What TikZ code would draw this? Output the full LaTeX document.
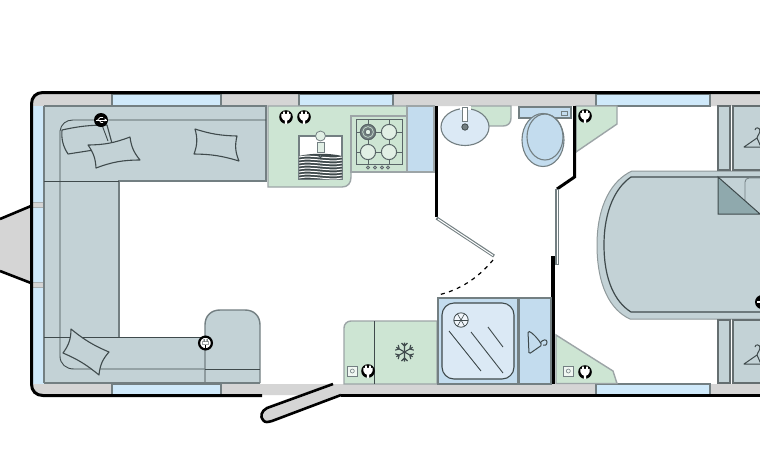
\documentclass[tikz,border=0pt]{standalone}
\definecolor{sofa}{HTML}{C3D2D6}
\definecolor{edge}{HTML}{737F82}
\definecolor{leaf}{HTML}{CDE5D3}
\definecolor{glass}{HTML}{CFE9FA}
\definecolor{unit}{HTML}{C3DCEE}
\definecolor{tray}{HTML}{DBE9F5}
\definecolor{band}{HTML}{D5D5D5}
\definecolor{fold}{HTML}{8FA9AD}
\definecolor{ink}{HTML}{3F4A4C}
\definecolor{hobline}{HTML}{5A6668}
\tikzset{
  panel/.style={draw=edge,line width=1.4pt},
  thin part/.style={draw=ink,line width=0.9pt},
  wallink/.style={draw=black,line width=3pt},
  cushion/.style={draw=ink,line width=1.1pt,fill=sofa,line join=round},
  plugsock/.pic={
    \fill[black] (0,0) circle (6.8);
    \fill[white] (-4.6,-3.2) -- (4.6,-3.2) -- (4.6,0) .. controls (4.6,2.8) and (1.6,3.2) .. (1.1,3.6) -- (1.1,6.8) -- (-1.1,6.8) -- (-1.1,3.6) .. controls (-1.6,3.2) and (-4.6,2.8) .. (-4.6,0) -- cycle;
    \fill[white] (-2.8,-5.4) rectangle (-1.2,-3) (1.2,-5.4) rectangle (2.8,-3);
  },
  hangerpic/.pic={
    \draw[line width=1pt,draw=ink,line join=round] (0,0) -- (13,-9) -- (17,0) -- cycle;
    \draw[line width=1pt,draw=ink] (13,-9) .. controls (14,-13) and (16,-13) .. (16,-16) .. controls (16,-20) and (11,-20) .. (11,-17);
  },
}
\begin{document}
\begin{tikzpicture}[x=1pt,y=-1pt]
\useasboundingbox (0,0) rectangle (760,467);
\path[clip] (0,0) rectangle (760,467);
\fill[white] (0,0) rectangle (760,467);

% hitch
\fill[band] (0,219) -- (31,206) -- (31,283) -- (0,270) -- cycle;
\draw[line width=2.6pt] (0,219) -- (31,206);
\draw[line width=2.6pt] (0,271) -- (31,283);

% wall bands
\fill[band] (43,93) -- (760,93) -- (760,106) -- (33,106) -- (33,103) .. controls (33,97) and (37,93) .. (43,93) -- cycle;
\fill[band] (33,384) -- (340,384) -- (340,395) -- (43,395) .. controls (37,395) and (33,391) .. (33,385) -- cycle;
\fill[band] (340,384) rectangle (760,395);
\fill[glass] (33,106) rectangle (44,384);
\fill[band] (33,202) rectangle (44,207);
\fill[band] (33,282) rectangle (44,287);
\draw[edge!60,line width=0.5pt] (33,202) -- (44,202) (33,207) -- (44,207) (33,282) -- (44,282) (33,287) -- (44,287);

% windows
\foreach \a/\b in {112/221,299/393,596/710}{
  \draw[panel,fill=glass] (\a,94) rectangle (\b,106);
}
\foreach \a/\b in {112/221,596/710}{
  \draw[panel,fill=glass] (\a,384) rectangle (\b,395);
}

% sofa
\fill[sofa] (44,106) -- (266,106) -- (266,181) -- (119,181) -- (119,337) -- (205,337) -- (205,383) -- (44,383) -- cycle;
\draw[panel] (44,106) -- (266,106) -- (266,181) -- (119,181) -- (119,337);
\draw[panel] (44,106) -- (44,383);
\draw[thin part] (44,181) -- (119,181);
\draw[thin part] (44,337) -- (205,337);
\draw[thin part] (266,120) -- (73,120) .. controls (66,120) and (61,124) .. (60,131) -- (60,356) .. controls (60,364) and (66,369) .. (74,369) -- (205,369);
\draw[panel,fill=sofa] (205,383) -- (205,325) .. controls (205,316) and (211,310) .. (220,310) -- (245,310) .. controls (254,310) and (260,316) .. (260,325) -- (260,383);
\draw[thin part] (205,369) -- (260,369);
\draw[panel] (44,383) -- (260,383);

% cushions
\draw[cushion] (62,130) to[bend left=6] (107,125) -- (113,147) -- (68,154) to[bend left=18] cycle;
\draw[thin part] (102,125) -- (108,141);
\draw[cushion] (88,145) to[bend right=10] (130,137) to[bend right=16] (140,160) to[bend right=10] (96,168) to[bend right=16] cycle;
\draw[cushion] (195,129) to[bend right=8] (237,136) to[bend right=18] (239,161) to[bend right=8] (194,154) to[bend right=18] cycle;
\draw[cushion] (71,329) to[bend right=8] (109,352) to[bend right=18] (99,375) to[bend right=8] (63,353) to[bend right=18] cycle;

% usb
\node[circle,fill=black,minimum size=14pt,inner sep=0pt] (usb) at (101,120) {};
\draw[white,line width=1pt] (95.5,120) -- (107,120);
\fill[white] (107,120) -- (104.5,118.4) -- (104.5,121.6) -- cycle;
\draw[white,line width=0.7pt] (97.5,120) -- (100,117.5) -- (103,117.5) (99,120) -- (101,122.5) -- (103,122.5);
% sofa socket
\draw[black,line width=2.2pt,fill=white] (205.5,343) circle (6.4);
\fill[ink!50] (202,341) rectangle (209,345);
\fill[white] (202.8,341.8) rectangle (208.2,344.4);
\fill[ink] (203.5,339) rectangle (204.5,341.5) (206.5,339) rectangle (207.5,341.5);
\draw[black,line width=1.2pt] (205.5,345) -- (205.5,350);

% kitchen
\draw[panel,draw=edge!70,fill=leaf] (268,106) -- (268,187) -- (342,187) .. controls (348,187) and (351,183) .. (351,177) -- (351,172) -- (407,172) -- (407,106) -- cycle;
\draw[panel,draw=edge!70,fill=unit] (407,106) rectangle (434,172);
\draw[panel,draw=edge!70,fill=leaf] (351,116) rectangle (407,172);
\pic at (286,117) {plugsock};
\pic at (304,117) {plugsock};
% sink
\draw[line width=1.4pt,draw=edge,fill=white] (299,136) rectangle (342,179);
\fill[ink] (299,156) .. controls (310,153) and (330,153) .. (342,156) -- (342,179) -- (299,179) -- cycle;
\foreach \y in {0,3,...,21}{
  \draw[white,line width=1pt] (299,157+\y) .. controls (310,154+\y) and (330,160+\y) .. (342,157+\y);
}
\draw[edge,line width=0.8pt,fill=leaf!60] (317,142) rectangle (324,152);
\draw[edge,line width=0.8pt,fill=leaf!60] (320.5,136) circle (5);
\draw[ink,line width=0.8pt,fill=edge] (320.5,156) circle (1.6);
% hob
\draw[hobline,line width=1pt] (356,119) rectangle (402,164);
\draw[hobline,line width=1pt] (368,119) -- (368,164) (389,119) -- (389,164) (356,132) -- (402,132) (356,152) -- (402,152);
\foreach \x/\y in {368/132,389/132,368/152,389/152}{
  \draw[hobline,line width=1pt,fill=leaf!60] (\x,\y) circle (7.6);
}
\draw[hobline,line width=1pt,fill=edge] (368,132) circle (7.6);
\draw[leaf,line width=0.6pt] (368,132) circle (5.4);
\draw[hobline,line width=0.8pt,fill=leaf!60] (368,132) circle (2.8);
\foreach \x in {368,375,382,388}{
  \draw[hobline,line width=0.7pt,fill=edge!60] (\x,167.5) circle (1.6);
}

% bathroom top
\draw[panel,draw=edge!70,fill=leaf] (470,106) -- (511,106) -- (511,118) .. controls (511,123) and (508,126) .. (503,126) -- (470,126) -- cycle;
\draw[line width=1.1pt,draw=edge,fill=tray] (465,127) ellipse (24 and 18.5);
\fill[white] (460,106) rectangle (471,110);
\draw[edge,line width=0.8pt,fill=white] (462.5,107) rectangle (467,121);
\draw[ink,line width=0.8pt,fill=edge] (465,127) circle (3.2);
\draw[line width=1.1pt,draw=edge,fill=unit] (519,107) rectangle (571,118);
\draw[edge,line width=0.7pt] (561,111) rectangle (567.5,115);
\draw[line width=1.1pt,draw=edge,fill=unit] (543,140) ellipse (21 and 26.5);
\draw[line width=1.1pt,draw=edge] (545,137) ellipse (18 and 23);

\draw[panel,draw=edge!70,fill=leaf] (576,106) -- (617,106) -- (617,124) -- (576,152) -- cycle;
\pic at (585,116) {plugsock};

% inner walls
\draw[wallink,line join=miter] (436.5,106) -- (436.5,217);
\draw[wallink,line join=miter] (574.5,106) -- (574.5,177) -- (557,189);
\draw[edge,line width=3.2pt] (557,189) -- (557,265);
\draw[white,line width=1pt] (557,190) -- (557,264);
\draw[line width=3.4pt,draw=black] (553,256) -- (553,384);
% door leaf
\draw[edge,line width=3.2pt] (436.5,218) -- (494,256);
\draw[white,line width=1pt] (438,219) -- (493,255.5);
\draw[black,line width=1.2pt,dash pattern=on 4pt off 4.5pt] (493,260) .. controls (478,278) and (460,290) .. (438,295);

% fridge
\draw[panel,draw=edge!70,fill=leaf] (344,384) -- (344,328) .. controls (344,324) and (347,321) .. (351,321) -- (437,321) -- (437,384) -- cycle;
\draw[thin part] (374,321) -- (374,384);
\pic at (368,371) {plugsock};
\draw[edge,line width=0.7pt,fill=white!70!leaf] (347,366) rectangle (357.5,376);
\draw[edge,line width=0.6pt] (352.3,371) circle (2);
\begin{scope}[shift={(404.5,352)}]
\foreach \r in {0,60,...,300}{
  \begin{scope}[rotate=\r]
    \draw[ink,line width=1.1pt] (0,0) -- (0,-9.5) (-3,-9) -- (0,-6) -- (3,-9);
  \end{scope}
}
\end{scope}

% shower
\draw[panel,fill=unit] (438,298) rectangle (518,384);
\draw[panel,fill=unit] (519,298) rectangle (551,384);
\draw[line width=1.1pt,draw=ink,fill=tray,rounded corners=12pt] (442,303) rectangle (514,379);
\draw[ink,line width=0.8pt,fill=white!60!tray] (461,320) circle (7.2);
\foreach \r in {0,60,...,300}{
  \draw[ink,line width=0.6pt] (461,320) -- ++(\r:7.2);
}
\draw[ink,line width=0.9pt] (449,331) -- (481,371) (471,332) -- (503,373) (488,327) -- (503,347);
\draw[ink,line width=1pt,rounded corners=1.5pt] (528,331) .. controls (533,333) and (538,339) .. (542,345) -- (529,354) -- cycle;
\draw[ink,line width=1pt] (540,343) .. controls (543,339) and (547,339) .. (547,342) .. controls (547,345) and (545,346) .. (543,345);

\draw[panel,draw=edge!70,fill=leaf] (556,335) -- (613,371) -- (617,383.5) -- (556,383.5) -- cycle;
\pic at (585,372) {plugsock};
\draw[edge,line width=0.7pt,fill=white!70!leaf] (563,366) rectangle (573.5,376);
\draw[edge,line width=0.6pt] (568.3,371) circle (2);

% bed
\draw[line width=1pt,draw=edge!80,fill=sofa] (760,171) -- (632,171) .. controls (612,180) and (597,205) .. (597,245) .. controls (597,285) and (610,310) .. (630,319) -- (760,319);
\draw[line width=1.2pt,draw=ink] (760,177) -- (631,177) .. controls (616,187) and (604,210) .. (604,245) .. controls (604,280) and (615,302) .. (631,312) -- (760,312);
\draw[edge,line width=0.8pt,rounded corners=4pt] (760,178) -- (745,178) -- (745,202);
\fill[fold] (718,177) -- (760,214) -- (718,214) -- cycle;
\draw[ink,line width=1pt] (760,214) -- (718,214) -- (718,177) -- (760,214);
\fill[black] (762,302) circle (7);
\draw[white,line width=1.2pt] (757,302) -- (760,302);

% rear wardrobes
\foreach \t/\b in {106/170,320/383}{
  \draw[panel,draw=ink!80,fill=sofa] (718,\t) rectangle (730,\b);
  \fill[sofa] (733,\t) rectangle (760,\b);
  \draw[panel,draw=ink!80] (760,\t) -- (733,\t) -- (733,\b) -- (760,\b);
}
\pic at (744,147) {hangerpic};
\pic at (744,364) {hangerpic};

% outer wall
\draw[wallink,line cap=butt] (760,92.5) -- (43,92.5) .. controls (36,92.5) and (31.5,97) .. (31.5,104) -- (31.5,384) .. controls (31.5,391) and (36,395.5) .. (43,395.5) -- (262,395.5);
\draw[wallink,line cap=butt] (341,395.5) -- (760,395.5);

% entrance door
\draw[line width=2.6pt,fill=band,line join=round] (333,384) -- (267,408) .. controls (261,411) and (260,417) .. (263,420) .. controls (265,423) and (268,422) .. (272,421) -- (341,395);
\end{tikzpicture}
\end{document}
